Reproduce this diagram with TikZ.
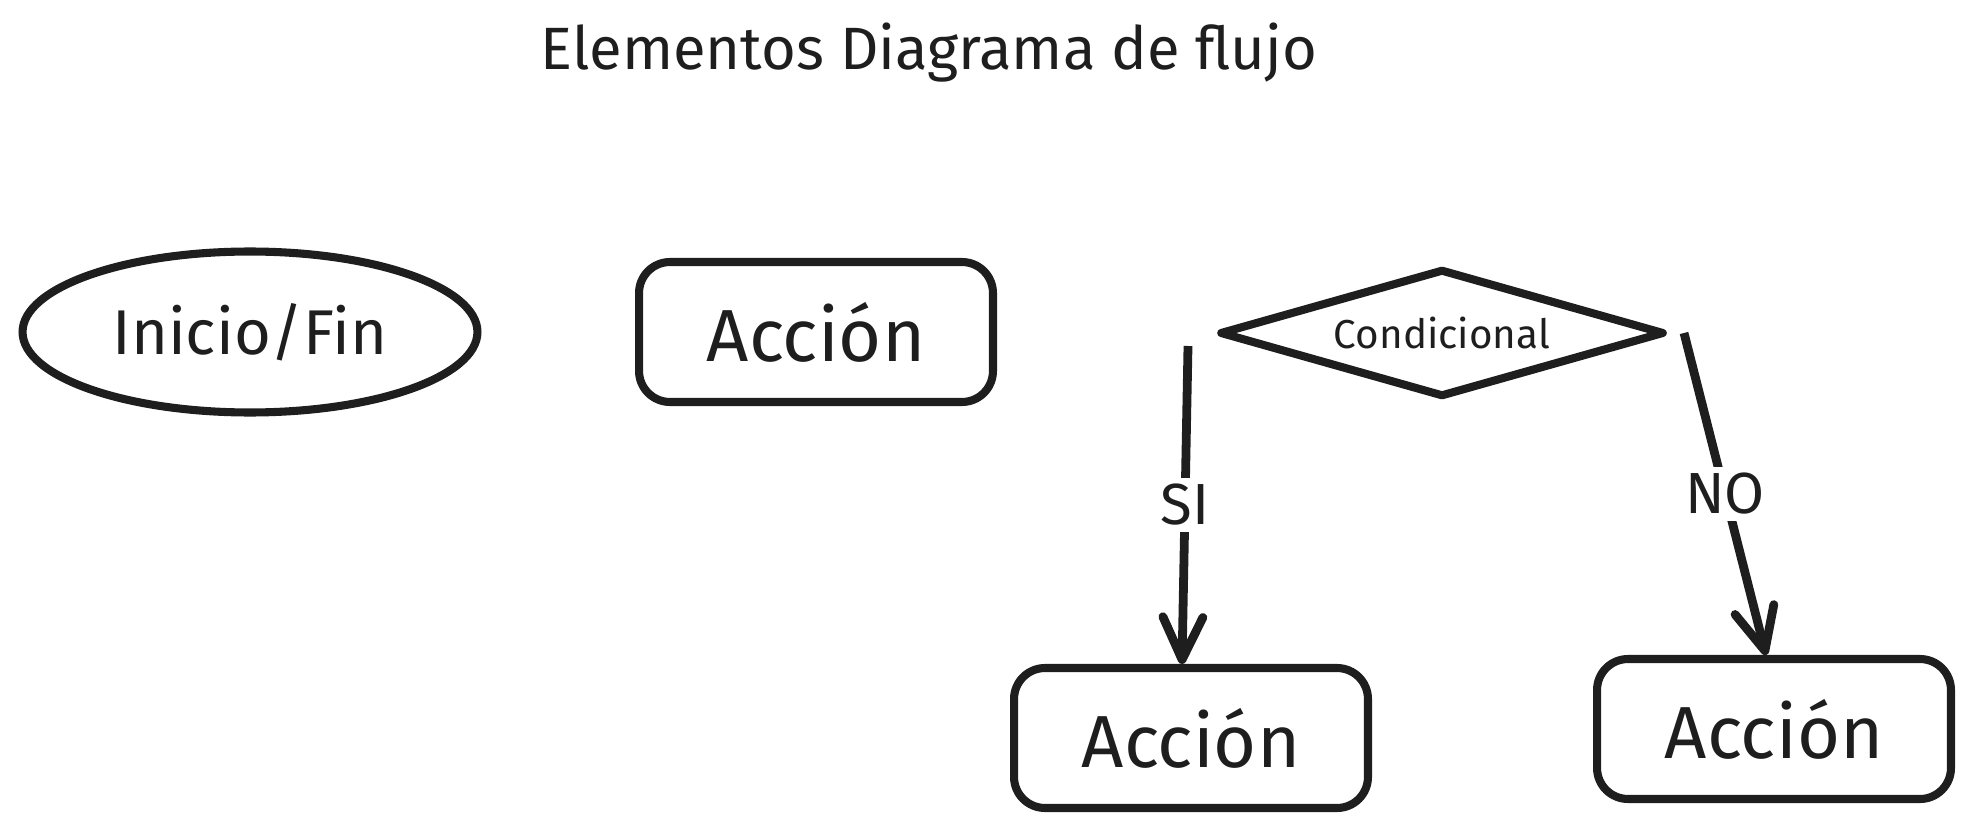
\documentclass[tikz,border=0pt]{standalone}
\usepackage{fontspec}
\setmainfont{Fira Sans}
\usetikzlibrary{shapes.geometric, arrows.meta}
\definecolor{ink}{HTML}{1E1E1E}

\begin{document}
\begin{tikzpicture}[x=0.02cm, y=-0.02cm,
    startend/.style={ellipse, draw=ink, text=ink, line width=4.6pt, minimum width=9.1cm, minimum height=3.22cm, inner sep=0pt, font=\fontsize{36}{43}\selectfont},
    action/.style={rectangle, rounded corners=0.62cm, draw=ink, text=ink, line width=4.6pt, minimum width=7.08cm, minimum height=2.8cm, font=\fontsize{42}{50}\selectfont},
    decision/.style={diamond, aspect=3.4, draw=ink, text=ink, line width=4.6pt, line join=round, minimum width=8.9cm, minimum height=2.56cm, inner sep=0pt, font=\fontsize{23}{28}\selectfont},
    flow/.style={-{Straight Barb[length=0.85cm, width=0.8cm, round]}, draw=ink, line width=5pt},
    answer/.style={fill=white, text=ink, font=\fontsize{33}{40}\selectfont}
]
    \useasboundingbox (0,0) rectangle (1971,831);

    % Title
    \node[text=ink, font=\fontsize{34}{40}\selectfont] (title) at (929,53) {Elementos Diagrama de flujo};

    % Shapes
    \node[startend] (inicio) at (250,332) {Inicio/Fin};
    \node[action] (accion) at (816,332) {Acción};
    \node[decision] (cond) at (1442,333) {Condicional};

    \node[action] (accionSi) at (1191,738) {Acción};
    \node[action] (accionNo) at (1774,729) {Acción};

    % Free ends of the branches
    \coordinate (siStart) at (1188,346);
    \coordinate (noStart) at (1684,333);

    % Branches
    \draw[flow] (siStart) -- node[answer] {SI} ([xshift=-0.18cm]accionSi.north);
    \draw[flow] (noStart) -- node[answer] {NO} ([xshift=-0.16cm]accionNo.north);
\end{tikzpicture}
\end{document}
